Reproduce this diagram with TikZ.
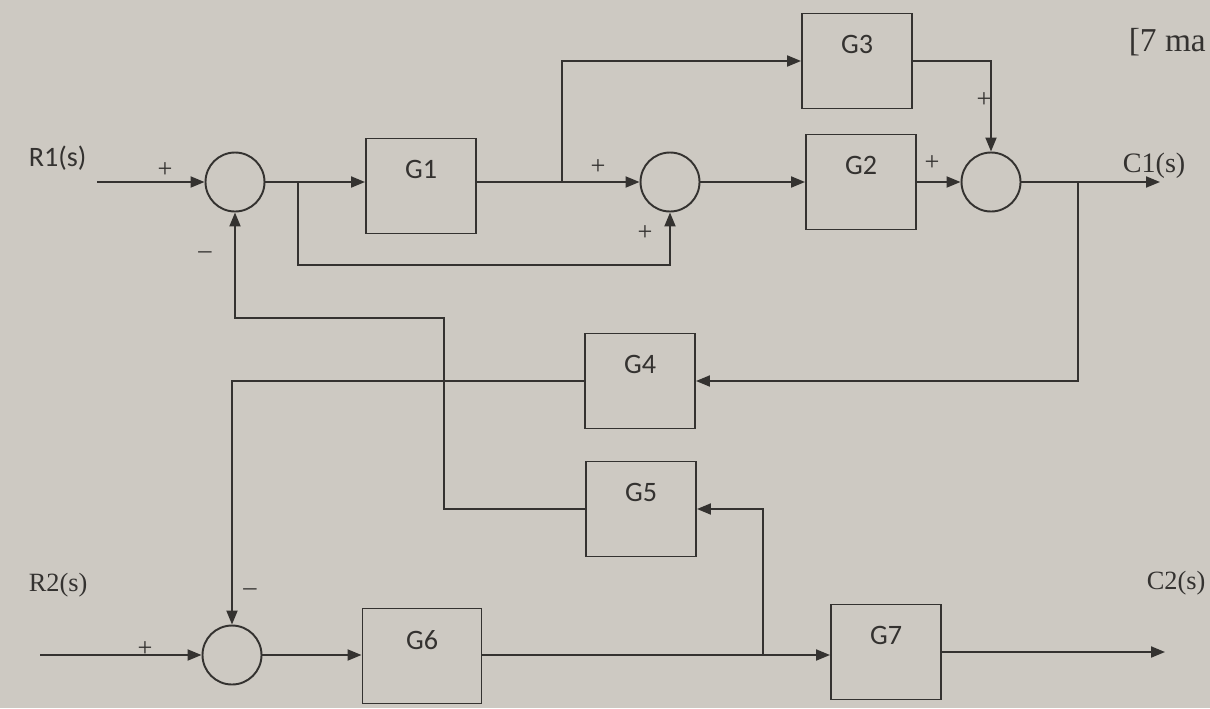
\documentclass[tikz,border=0pt]{standalone}
\usepackage{fontspec}
\setmainfont{Liberation Serif}
\newfontfamily\blockfont{Carlito}
\usetikzlibrary{arrows.meta,calc}
\definecolor{paper}{RGB}{205,201,194}
\definecolor{ink}{RGB}{52,50,48}
\tikzset{
  block/.style={
    draw,
    minimum width=22mm,
    minimum height=19mm,
    inner sep=0pt
  },
  blocklabel/.style={
    anchor=north,
    yshift=-3.2mm,
    font=\blockfont\fontsize{16}{18}\selectfont
  },
  junction/.style={
    draw,
    shape=circle,
    minimum size=11.8mm,
    inner sep=0pt
  },
  sign/.style={
    inner sep=0pt,
    font=\fontsize{15}{17}\selectfont
  },
  signal/.style={
    -{Triangle[length=2.8mm,width=2.2mm]}
  }
}

\begin{document}
\begin{tikzpicture}[x=0.2mm,y=-0.2mm,line width=1.1pt,color=ink]
            \useasboundingbox (0,0) rectangle (1210,708);
            \fill[paper] (0,0) rectangle (1210,708);
            % upper loop
            \node[junction] (s1) at (235,182) {};
            \node[block,label={[blocklabel]north:G1}] (g1) at (421,186) {};
            \node[junction] (s2) at (670,182) {};
            \node[block,label={[blocklabel]north:G2}] (g2) at (861,182) {};
            \node[junction] (s3) at (991,182) {};
            \node[block,label={[blocklabel]north:G3}] (g3) at (857,61) {};
            \node[block,label={[blocklabel]north:G4}] (g4) at (640,381) {};
            \node[block,label={[blocklabel]north:G5}] (g5) at (641,509) {};
            % lower loop
            \node[junction] (s4) at (232,655) {};
            \node[block,minimum width=23.8mm,label={[blocklabel]north:G6}] (g6) at (422,656) {};
            \node[block,label={[blocklabel]north:G7}] (g7) at (886,652) {};
            \coordinate (r1) at (97,182);
            \coordinate (c1) at (1160,182);
            \coordinate (r2) at (40,655);
            \coordinate (c2) at (1165,652);
            \coordinate (t1) at (298,182);
            \coordinate (t2) at (562,182);
            \coordinate (t3) at (1078,182);
            \coordinate (t4) at (763,655);
            \coordinate (k1) at (298,265);
            \coordinate (k2) at (444,318);
            \draw[signal] (r1) -- (s1);
            \draw[signal] (s1) -- (s1 -| g1.west);
            \draw[signal] (g1.east |- s2) -- (s2);
            \draw[signal] (s2) -- (s2 -| g2.west);
            \draw[signal] (g2.east |- s3) -- (s3);
            \draw[signal] (s3) -- (c1);
            \draw[signal] (t1) -- (k1) -| (s2);
            \draw[signal] (t2) |- (g3);
            \draw[signal] (g3) -| (s3);
            \draw[signal] (t3) |- (g4);
            \draw[signal] (g4) -| (s4);
            \draw[signal] (g5) -| (k2) -| (s1);
            \draw[signal] (r2) -- (s4);
            \draw[signal] (s4) -- (s4 -| g6.west);
            \draw[signal] (g6.east |- s4) -- (s4 -| g7.west);
            \draw[signal] (g7) -- (c2);
            \draw[signal] (t4) |- (g5);
            % signs
            \node[sign] (p1) at (165,170) {+};
            \node[sign] (m1) at (205,255) {–};
            \node[sign] (p2) at (598,167) {+};
            \node[sign] (p3) at (645,233) {+};
            \node[sign] (p4) at (932,163) {+};
            \node[sign] (p5) at (984,100) {+};
            \node[sign] (m2) at (250,592) {–};
            \node[sign] (p6) at (145,649) {+};
            % inputs and outputs
            \node[anchor=west,font=\blockfont\fontsize{16}{18}\selectfont] (r1label) at (22,158) {R1(s)};
            \node[anchor=west,font=\fontsize{15}{18}\selectfont] (r2label) at (22,585) {R2(s)};
            \node[anchor=west,font=\fontsize{16}{18}\selectfont] (c1label) at (1116,166) {C1(s)};
            \node[anchor=west,font=\fontsize{15}{18}\selectfont] (c2label) at (1140,583) {C2(s)};
            \node[anchor=west,font=\fontsize{19}{22}\selectfont] (marks) at (1122,42) {[7 ma};
\end{tikzpicture}
\end{document}
